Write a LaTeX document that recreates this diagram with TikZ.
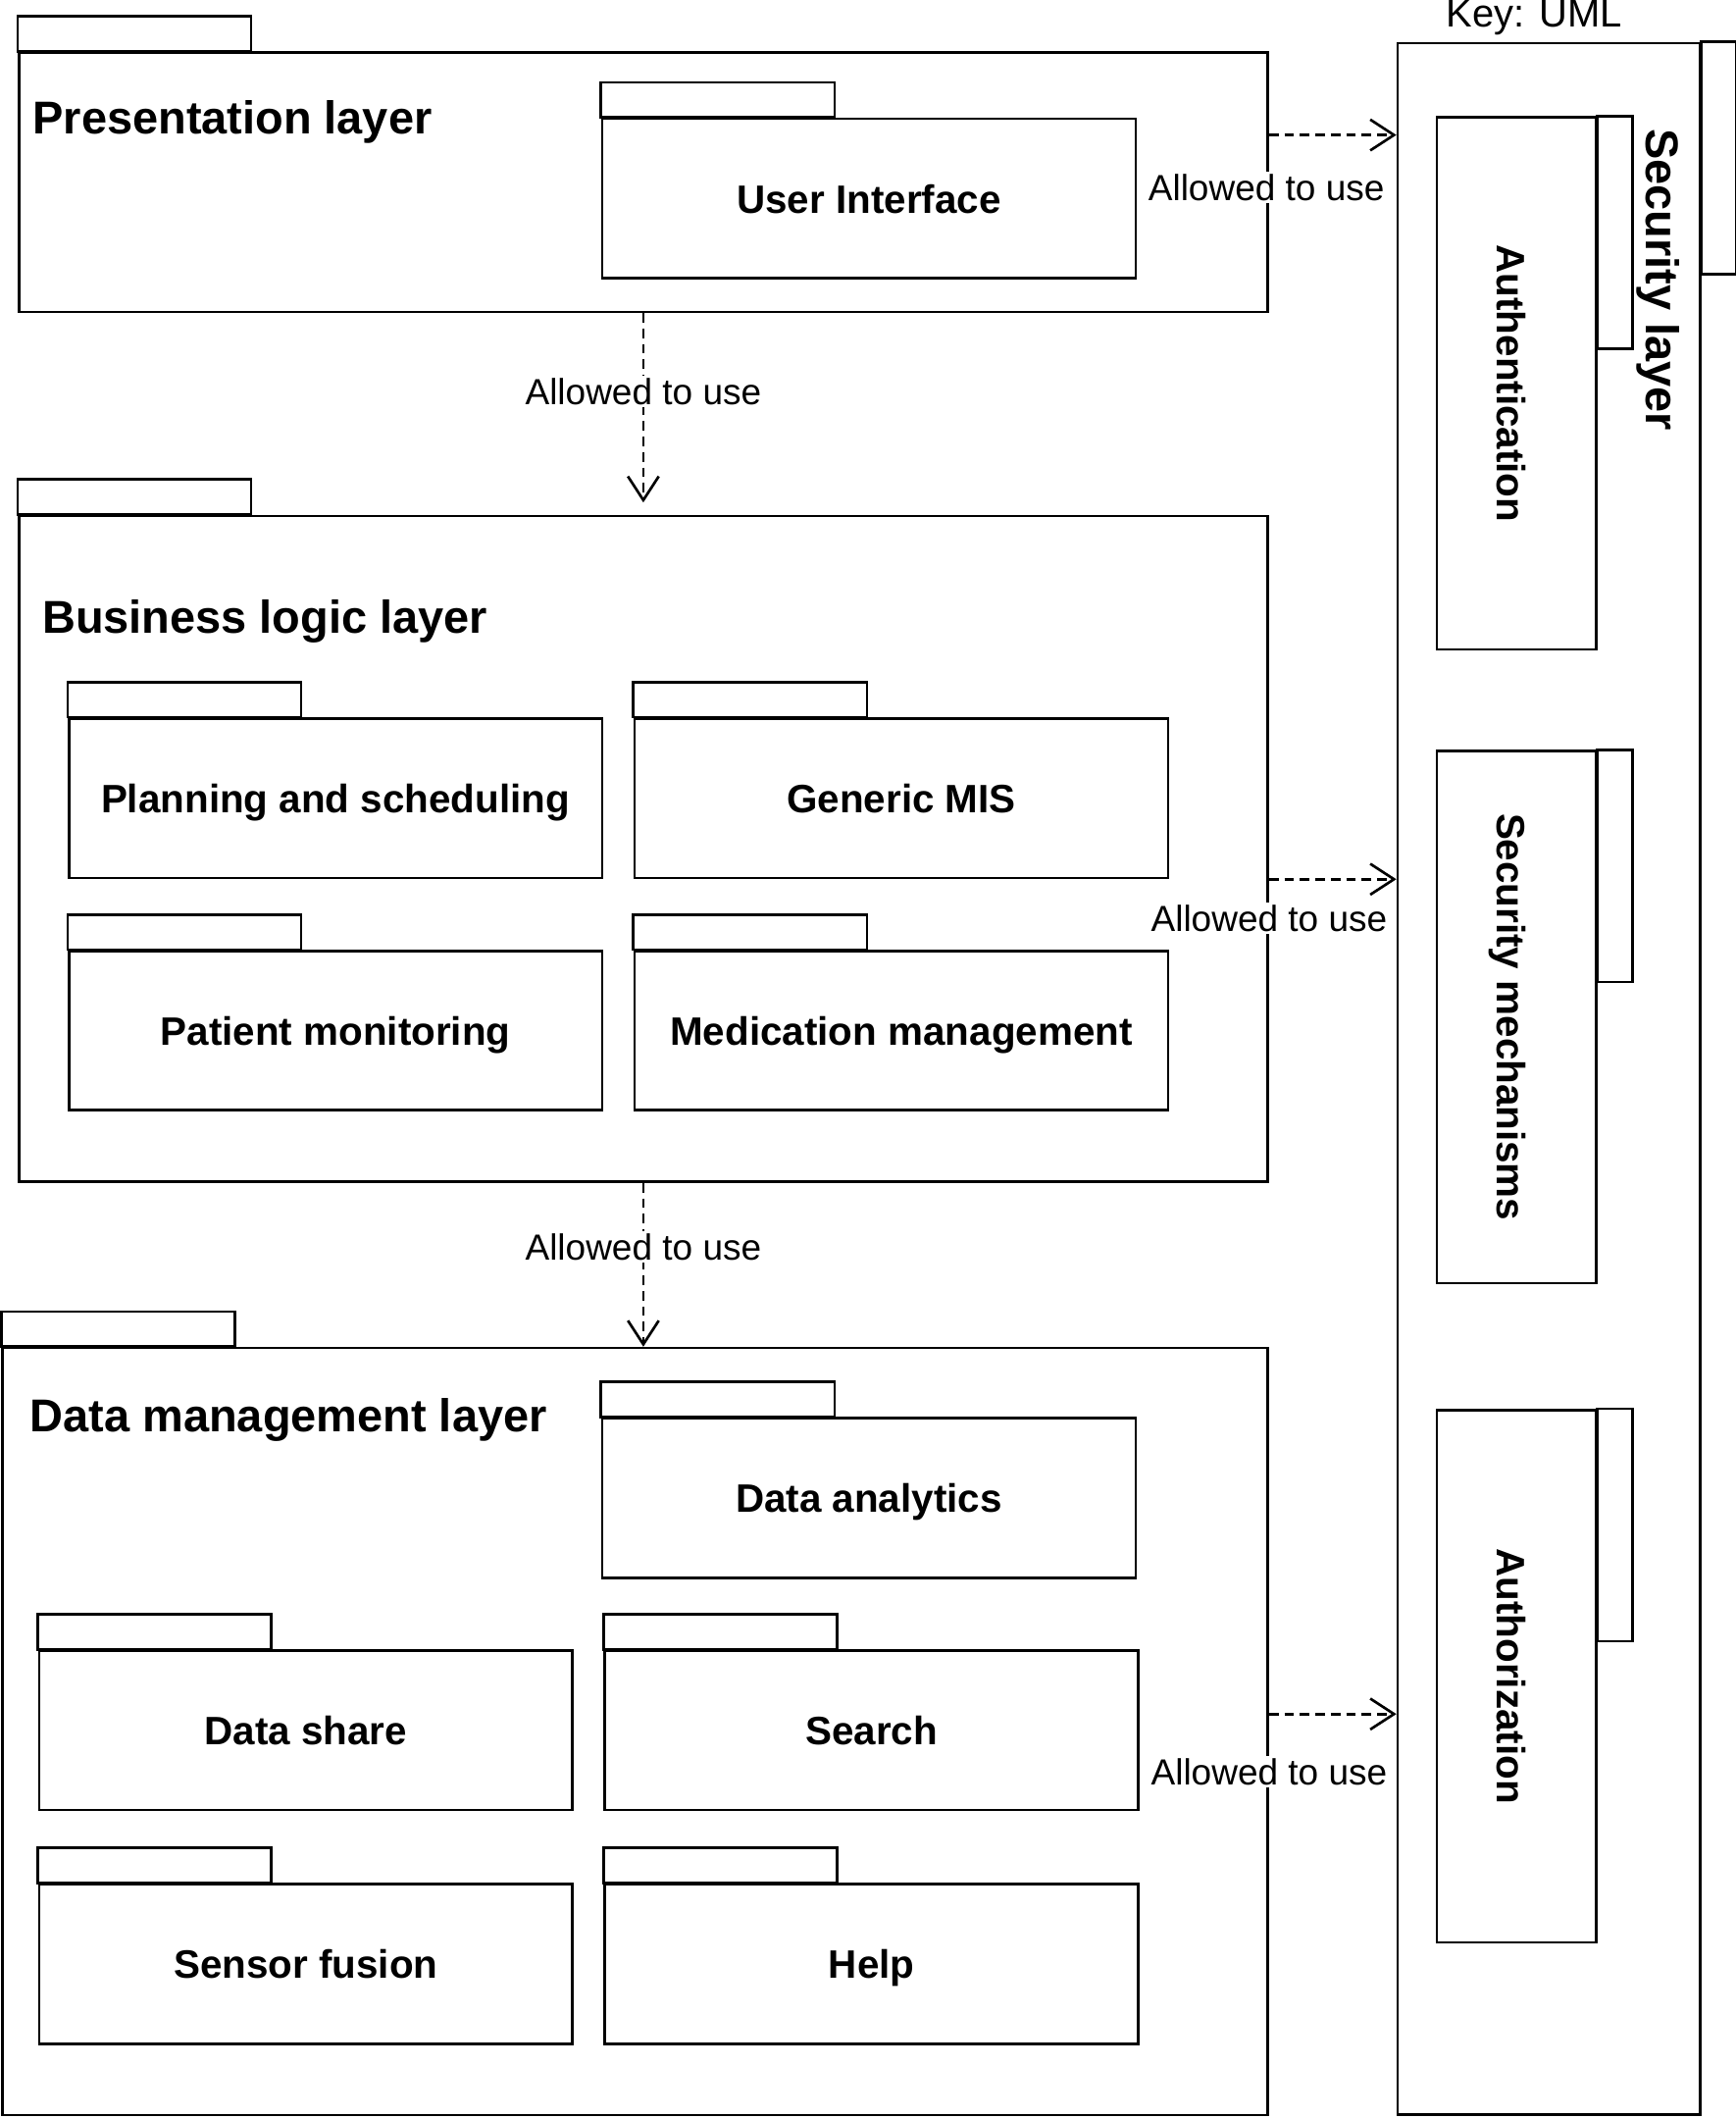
\documentclass[tikz,border=0pt]{standalone}
\usepackage{fontspec}
\setmainfont{Liberation Sans}
\usepackage{graphicx}
\usetikzlibrary{arrows.meta,positioning}
\newcommand{\sidetext}[1]{\rotatebox{-90}{\rule[-0.2em]{0pt}{1.38em}#1}}
\tikzset{
  basic/.style  = {draw, line width=1.1pt, inner sep=0pt, anchor=north west},
  layer/.style  = {basic, minimum width=18.5cm},
  pkg/.style    = {basic, minimum width=7.9cm, minimum height=2.36cm,
                   text height=12.4pt, text depth=0pt,
                   font=\fontsize{16.7}{20}\selectfont\bfseries},
  vpkg/.style   = {basic, minimum width=2.36cm, minimum height=7.88cm,
                   font=\fontsize{16.7}{20}\selectfont\bfseries},
  title/.style  = {inner sep=0pt, font=\fontsize{19.4}{23}\selectfont\bfseries},
  lbl/.style    = {fill=white, inner sep=1pt, font=\fontsize{15.3}{18}\selectfont},
  dep/.style    = {draw, line width=1.1pt, dash pattern=on 4pt off 2.5pt, ->}
}

\begin{document}
\begin{tikzpicture}[x=0.02cm, y=-0.02cm,
		>={Straight Barb[length=10pt,width=13pt]}]
	  \useasboundingbox (0,0) rectangle (1285,1568);

	  % the layers
	  \node[layer, minimum height=3.84cm] (pres) at (13,38) {};
	  \node[layer, minimum height=9.86cm] (biz) at (13,381) {};
	  \node[layer, minimum width=18.74cm, minimum height=11.36cm] (data) at (1,997) {};
	  \node[basic, minimum width=4.48cm, minimum height=30.68cm] (sec) at (1034,31) {};

	  % layer names
	  \node[title, anchor=base west] (presT) at (24,99) {Presentation layer};
	  \node[title, anchor=base west] (bizT) at (31,469) {Business logic layer};
	  \node[title, anchor=base west] (dataT) at (22,1060) {Data management layer};
	  \node[title, rotate=-90] (secT) at (1228,207) {Security layer};
	  \node[font=\fontsize{16.5}{20}\selectfont, inner sep=0pt] (key) at (1136,13) {Key: UML};

	  % packages inside the layers
	  \node[pkg] (ui) at (445,87) {User Interface};
	  \node[pkg] (plan) at (50,531) {Planning and scheduling};
	  \node[pkg] (mis) at (469,531) {Generic MIS};
	  \node[pkg] (pat) at (50,703) {Patient monitoring};
	  \node[pkg] (med) at (469,703) {Medication management};
	  \node[pkg] (ana) at (445,1049) {Data analytics};
	  \node[pkg] (share) at (28,1221) {Data share};
	  \node[pkg] (search) at (447,1221) {Search};
	  \node[pkg] (fusion) at (28,1394) {Sensor fusion};
	  \node[pkg] (help) at (447,1394) {Help};

	  \node[vpkg] (auth) at (1063,86) {\sidetext{Authentication}};
	  \node[vpkg] (mech) at (1063,555) {\sidetext{Security mechanisms}};
	  \node[vpkg] (authz) at (1063,1043) {\sidetext{Authorization}};

	  % tabs of the packages
	  \foreach \n in {pres,biz,data,ui,plan,mis,pat,med,ana,share,search,fusion,help}
		\draw[line width=1.1pt] (\n.north west) rectangle ++(173,-26);

	  \foreach \n in {sec,auth,mech,authz}
		\draw[line width=1.1pt] (\n.north east) rectangle ++(26,172);

	  % dependencies between the layers
	  \draw[dep, shorten >=0.18cm] (pres.south) --
		node[lbl, pos=0.39] (l1) {Allowed to use} (biz.north);
	  \draw[dep] (biz.south) --
		node[lbl, pos=0.39] (l2) {Allowed to use} (biz.south |- data.north);

	  \draw[dep] ([yshift=0.7cm]pres.east) coordinate (p1) -- (p1 -| sec.west)
		node[lbl, pos=0, xshift=-0.04cm, yshift=-0.78cm] (l3) {Allowed to use};
	  \draw[dep] ([yshift=-0.45cm]biz.east) coordinate (p2) -- (p2 -| sec.west)
		node[lbl, pos=0, yshift=-0.58cm] (l4) {Allowed to use};
	  \draw[dep] ([yshift=0.26cm]data.east) coordinate (p3) -- (p3 -| sec.west)
		node[lbl, pos=0, yshift=-0.86cm] (l5) {Allowed to use};

\end{tikzpicture}
\end{document}
